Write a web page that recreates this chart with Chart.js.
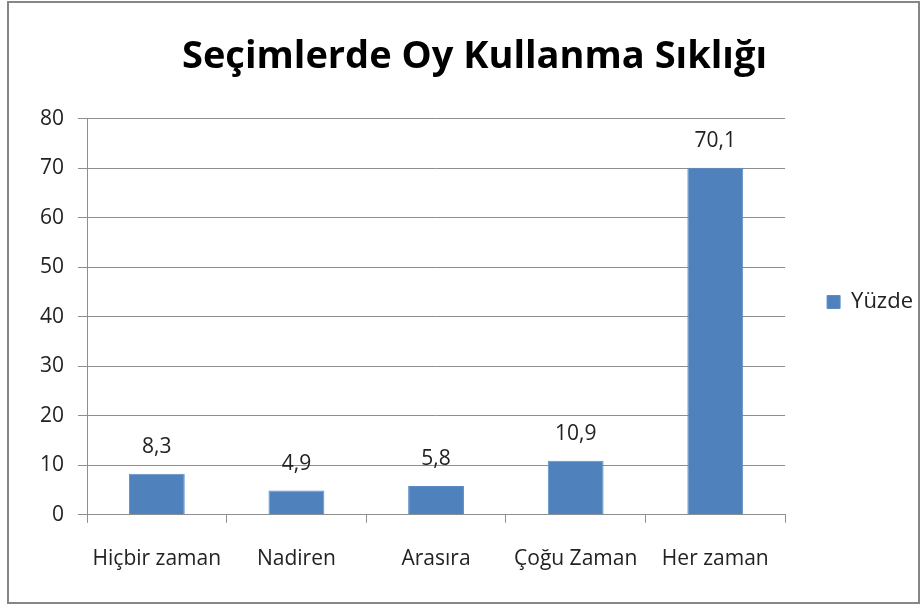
<!DOCTYPE html>
<html lang="tr">
<head>
    <meta charset="UTF-8">
    <title>Seçimlerde Oy Kullanma Sıklığı</title>
    <script src="https://cdn.jsdelivr.net/npm/chart.js@4.4.1/dist/chart.umd.min.js"></script>
    <style>
        body { margin: 0; background: #fff; }
        #wrap { width: 923px; height: 607px; position: relative; }
    </style>
</head>
<body>
    <div id="wrap"><canvas id="chart"></canvas></div>

    <script>
        // chart data
        const categories = ['Hiçbir zaman', 'Nadiren', 'Arasıra', 'Çoğu Zaman', 'Her zaman'];
        const yuzde = [8.3, 4.9, 5.8, 10.9, 70.1];
        const seriesName = 'Yüzde';
        const titleText = 'Seçimlerde Oy Kullanma Sıklığı';

        const FONT = "'Open Sans', 'DejaVu Sans', sans-serif";
        const TEXT = '#222222';
        const GRID = '#8e8e8e';

        // outer frame like the office chart box
        const frame = {
            id: 'frame',
            beforeDraw(chart) {
                const c = chart.ctx;
                c.save();
                c.fillStyle = '#fff';
                c.fillRect(0, 0, chart.width, chart.height);
                c.strokeStyle = '#868686';
                c.lineWidth = 2;
                c.strokeRect(8, 2, 911, 601);
                c.restore();
            }
        };

        // value labels above each bar, with comma decimals
        const barLabels = {
            id: 'barLabels',
            afterDatasetsDraw(chart) {
                const c = chart.ctx;
                const meta = chart.getDatasetMeta(0);
                c.save();
                c.font = '21px ' + FONT;
                c.fillStyle = TEXT;
                c.textAlign = 'center';
                c.textBaseline = 'middle';
                meta.data.forEach((bar, i) => {
                    const txt = String(yuzde[i]).replace('.', ',');
                    c.fillText(txt, bar.x, bar.y - 27);
                });
                c.restore();
            }
        };

        new Chart(document.getElementById('chart'), {
            type: 'bar',
            data: {
                labels: categories,
                datasets: [{
                    label: seriesName,
                    data: yuzde,
                    backgroundColor: '#4f81bd',
                    borderColor: '#5b8cc6',
                    borderWidth: 1,
                    barPercentage: 1,
                    categoryPercentage: 0.4
                }]
            },
            options: {
                responsive: true,
                maintainAspectRatio: false,
                animation: false,
                layout: { padding: { left: 26, right: 0, top: 8, bottom: 11 } },
                plugins: {
                    title: {
                        display: true,
                        text: titleText,
                        color: '#000',
                        font: { family: FONT, size: 38, weight: 'bold' },
                        padding: { top: 26, bottom: 39 }
                    },
                    legend: {
                        position: 'right',
                        labels: {
                            boxWidth: 13,
                            boxHeight: 13,
                            padding: 42,
                            color: TEXT,
                            font: { family: FONT, size: 22 }
                        }
                    },
                    tooltip: { enabled: false }
                },
                scales: {
                    x: {
                        grid: {
                            drawOnChartArea: false,
                            drawTicks: true,
                            tickLength: 8,
                            color: GRID
                        },
                        border: { color: GRID, width: 1 },
                        ticks: {
                            color: TEXT,
                            padding: 24,
                            font: { family: FONT, size: 21 }
                        }
                    },
                    y: {
                        min: 0,
                        max: 80,
                        ticks: {
                            stepSize: 10,
                            color: TEXT,
                            padding: 14,
                            font: { family: FONT, size: 21 }
                        },
                        grid: {
                            color: GRID,
                            tickLength: 9
                        },
                        border: { color: GRID, width: 1 }
                    }
                }
            },
            plugins: [frame, barLabels]
        });
    </script>
</body>
</html>
